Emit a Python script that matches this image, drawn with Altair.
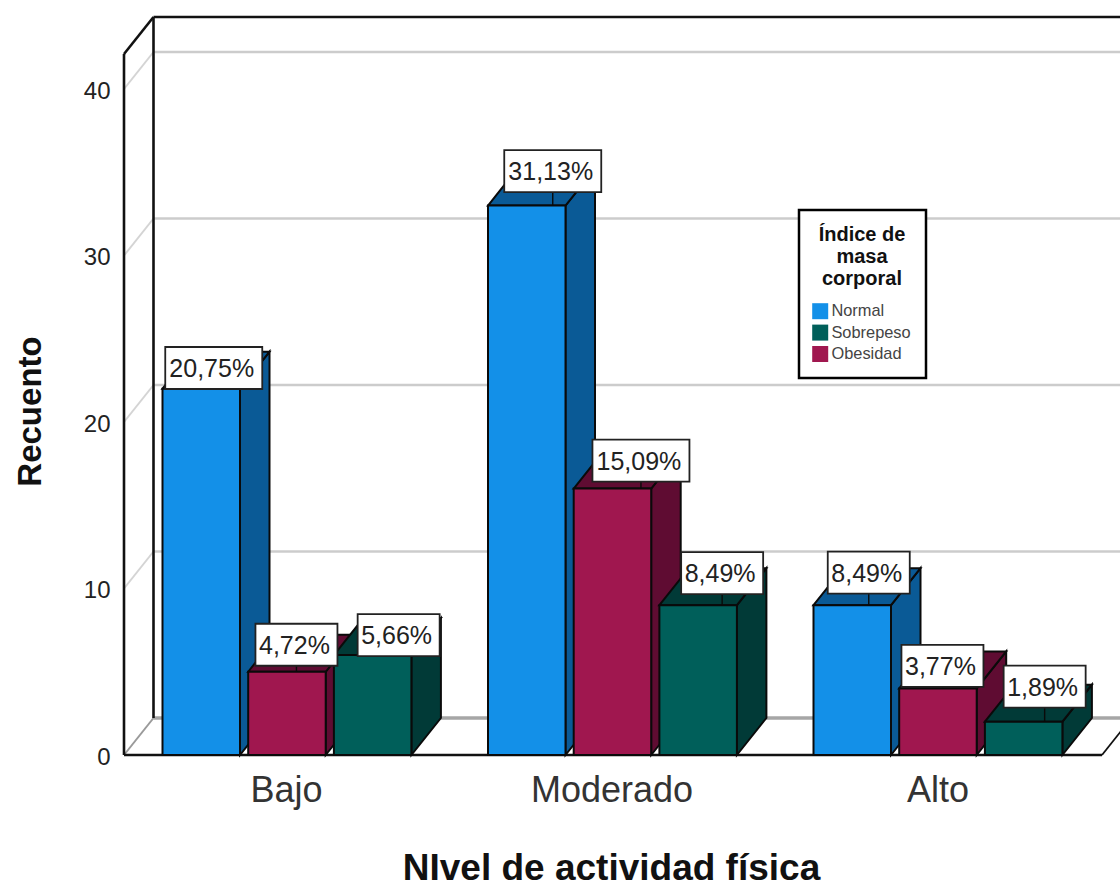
import altair as alt
import pandas as pd

# Counts per activity level and body-mass category
niveles = ["Bajo", "Moderado", "Alto"]
categorias = ["Normal", "Obesidad", "Sobrepeso"]
recuentos = {
    "Normal": [22, 33, 9],
    "Obesidad": [5, 16, 4],
    "Sobrepeso": [6, 9, 2],
}
porcentajes = {
    "Normal": ["20,75%", "31,13%", "8,49%"],
    "Obesidad": ["4,72%", "15,09%", "3,77%"],
    "Sobrepeso": ["5,66%", "8,49%", "1,89%"],
}
marcas_y = [0, 10, 20, 30, 40]

# Callout placement relative to the front-top centre of each bar, in pixels
desvio_x = {"Normal": [12.5, 26, 16.5], "Obesidad": [9.5, 28.5, 4.5], "Sobrepeso": [26, 24, 21]}
desvio_y = {"Normal": [20.7, 34.5, 32.5], "Obesidad": [27, 28, 22.5], "Sobrepeso": [20, 32, 35]}

# Face colours of the extruded bars: front, then side and top
frente = {"Normal": "#1390e8", "Sobrepeso": "#005f5a", "Obesidad": "#a0174f"}
lateral = {"Normal": "#0a5a96", "Sobrepeso": "#013a37", "Obesidad": "#5f0c32"}
orden_leyenda = ["Normal", "Sobrepeso", "Obesidad"]

# Layout: the x scale runs one unit per pixel; y is in counts
ANCHO, ALTO = 996, 701
PX_POR_UNIDAD = 16.65
Y_TECHO = ALTO / PX_POR_UNIDAD
FONDO_X = 29.5
FONDO_Y = 37 / PX_POR_UNIDAD
PRIMERA_BARRA = 38.5
PASO_GRUPO = 325.5
PASO_BARRA = 85.7
ANCHO_BARRA = 77.5
SUELO_FIN = 978
FUENTE = "Liberation Sans"

eje_x = alt.Axis(
    values=[162, 487.5, 813.5],
    labelExpr=f"datum.value < 300 ? '{niveles[0]}' : datum.value < 600 ? '{niveles[1]}' : '{niveles[2]}'",
    title="NIvel de actividad física",
    domain=False, ticks=False, grid=False,
    labelFont=FUENTE, labelFontSize=36, labelColor="#333333", labelPadding=18,
    labelOverlap=False, labelFlush=False,
    titleFont=FUENTE, titleFontSize=37, titleFontWeight="bold", titleColor="#111111",
    titleX=487, titleY=124, titleBaseline="alphabetic",
)
eje_y = alt.Axis(
    values=marcas_y,
    title="Recuento",
    domain=False, ticks=False, grid=False,
    labelFont=FUENTE, labelFontSize=24, labelColor="#222222", labelPadding=14, labelOffset=2,
    titleFont=FUENTE, titleFontSize=33, titleFontWeight="bold", titleColor="#111111",
    titleX=-77, titleY=357,
)
leyenda = alt.Legend(
    orient="none", legendX=675, legendY=156,
    title=["Índice de", "masa", "corporal"],
    titleFont=FUENTE, titleFontSize=20, titleFontWeight="bold", titleColor="#111111",
    titleAlign="center", titleAnchor="middle", titleLimit=200, titlePadding=14,
    labelFont=FUENTE, labelFontSize=16.4, labelColor="#444444", labelOffset=3,
    symbolType="square", symbolSize=256, symbolStrokeWidth=0, symbolOffset=-2, rowPadding=4.4,
    fillColor="white", strokeColor="black", padding=15,
)
escala_x = alt.Scale(domain=[0, ANCHO], nice=False, zero=False)
escala_y = alt.Scale(domain=[0, Y_TECHO], nice=False, zero=False)
escala_color = alt.Scale(domain=orden_leyenda, range=[frente[c] for c in orden_leyenda])


def px(campo="x"):
    return alt.X(f"{campo}:Q", scale=escala_x, axis=eje_x)


def py(campo="y"):
    return alt.Y(f"{campo}:Q", scale=escala_y, axis=eje_y)


def trazos(tramos, color, grosor):
    """Straight segments of the box frame, each given as (x0, y0, x1, y1)."""
    filas = []
    for i, (x0, y0, x1, y1) in enumerate(tramos):
        filas += [{"t": i, "x": x0, "y": y0}, {"t": i, "x": x1, "y": y1}]
    return alt.Chart(pd.DataFrame(filas)).mark_line(color=color, strokeWidth=grosor).encode(
        x=px(), y=py(), detail="t:N"
    )


capas = [
    # Back wall and side wall gridlines
    trazos([(FONDO_X, v + FONDO_Y, 1007, v + FONDO_Y) for v in marcas_y[1:]], "#cccccc", 2.4),
    trazos([(0, v, FONDO_X, v + FONDO_Y) for v in marcas_y[1:]], "#d4d4d4", 2),
    # Floor
    trazos([(FONDO_X, FONDO_Y, 1007, FONDO_Y)], "#a6a6a6", 3.4),
    trazos([(0, 0, FONDO_X, FONDO_Y)], "#9a9a9a", 2),
    trazos([(SUELO_FIN, 0, SUELO_FIN + FONDO_X, FONDO_Y)], "#111111", 1.8),
    trazos([(0, 0, SUELO_FIN, 0)], "#111111", 2.6),
    # Frame edges
    trazos(
        [
            (0, 0, 0, Y_TECHO),
            (0, Y_TECHO, FONDO_X, Y_TECHO + FONDO_Y),
            (FONDO_X, Y_TECHO + FONDO_Y, 1007, Y_TECHO + FONDO_Y),
            (FONDO_X, FONDO_Y, FONDO_X, Y_TECHO + FONDO_Y),
        ],
        "#111111",
        2.6,
    ),
]

avisos = []
for g, nivel in enumerate(niveles):
    for s, cat in enumerate(categorias):
        v = recuentos[cat][g]
        x0 = PRIMERA_BARRA + PASO_GRUPO * g + PASO_BARRA * s
        x1 = x0 + ANCHO_BARRA
        trazo = dict(stroke="#0a0a0a", strokeWidth=2)

        # Side face, as a band between two slanted edges
        cara_lateral = pd.DataFrame(
            {"x": [x1, x1 + FONDO_X], "y": [v, v + FONDO_Y], "y2": [0, FONDO_Y]}
        )
        capas.append(
            alt.Chart(cara_lateral)
            .mark_area(color=lateral[cat], **trazo)
            .encode(x=px(), y=py(), y2="y2:Q")
        )
        # Top face, a parallelogram spanning the bar's width and depth
        cara_superior = pd.DataFrame(
            {
                "x": [x0, x0 + FONDO_X, x1, x1 + FONDO_X],
                "y": [v, v + FONDO_Y, v + FONDO_Y, v + FONDO_Y],
                "y2": [v, v, v, v + FONDO_Y],
            }
        )
        capas.append(
            alt.Chart(cara_superior)
            .mark_area(color=lateral[cat], **trazo)
            .encode(x=px(), y=py(), y2="y2:Q")
        )
        # Front face carries the category colour and the legend
        cara_frontal = pd.DataFrame({"x": [x0], "x2": [x1], "y": [v], "y2": [0], "cat": [cat]})
        capas.append(
            alt.Chart(cara_frontal)
            .mark_rect(**trazo)
            .encode(
                x=px(),
                x2="x2:Q",
                y=py(),
                y2="y2:Q",
                color=alt.Color("cat:N", scale=escala_color, legend=leyenda),
            )
        )

        etiqueta = porcentajes[cat][g]
        cx = (x0 + x1) / 2 + desvio_x[cat][g]
        cy = v + desvio_y[cat][g] / PX_POR_UNIDAD
        avisos.append(
            {
                "cx": cx,
                "cy": cy,
                "base": v,
                "izq": cx - (15 * len(etiqueta) + 7) / 2,
                "der": cx + (15 * len(etiqueta) + 7) / 2,
                "arr": cy + 21 / PX_POR_UNIDAD,
                "aba": cy - 21 / PX_POR_UNIDAD,
                "texto": etiqueta,
            }
        )

datos_avisos = pd.DataFrame(avisos)
base_avisos = alt.Chart(datos_avisos)
capas += [
    # Leader from each callout down to its bar
    base_avisos.mark_rule(color="#0a0a0a", strokeWidth=1.4).encode(x=px("cx"), y=py("base"), y2="cy:Q"),
    base_avisos.mark_rect(fill="white", stroke="#222222", strokeWidth=1.8).encode(
        x=px("izq"), x2="der:Q", y=py("arr"), y2="aba:Q"
    ),
    base_avisos.mark_text(font=FUENTE, fontSize=25, color="#222222", baseline="middle", align="center", dx=-2, dy=1).encode(
        x=px("cx"), y=py("cy"), text="texto:N"
    ),
]

chart = (
    alt.layer(*capas)
    .properties(
        width=ANCHO,
        height=ALTO,
        padding={"left": 124, "top": 54, "right": 0, "bottom": 126},
        autosize=alt.AutoSizeParams(type="none"),
        background="white",
    )
    .configure_view(stroke=None)
    .configure_legend(strokeWidth=2.5)
)

chart.save("out.html", embed_options={"renderer": "svg", "actions": False})
